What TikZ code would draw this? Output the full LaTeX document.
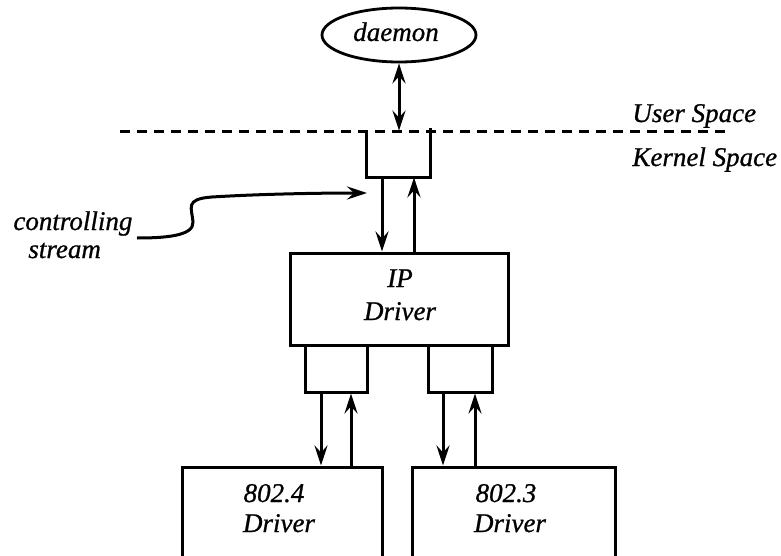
\documentclass[tikz,border=0pt]{standalone}
\usepackage{fontspec}
\setmainfont{Liberation Serif}[ItalicFeatures={FakeBold=0.8}]
\usetikzlibrary{arrows.meta,shapes.geometric}

\tikzset{
  tip/.tip={Stealth[length=10pt,width=6.5pt,inset=3.5pt]},
  line/.style={line width=1.5pt},
  arr/.style={line, -tip},
  darr/.style={line, tip-tip},
  box/.style={rectangle, draw, line width=1.5pt, inner sep=0pt},
  frame/.style={rectangle, inner sep=0pt},
  txt/.style={font=\fontsize{13.5}{16}\selectfont\itshape, inner sep=0pt, anchor=base},
  txtw/.style={txt, anchor=base west},
}

\begin{document}
\begin{tikzpicture}[x=0.5pt, y=-0.5pt]
  \useasboundingbox (0,0) rectangle (781,556);
  \clip (0,0) rectangle (781,556);

  % daemon process
  \node[ellipse, draw, line width=1.4pt, minimum width=77pt, minimum height=27pt, inner sep=0pt] (daemon) at (399,35) {};
  \node[txt] (daemontxt) at (396,41) {daemon};

  % user / kernel boundary
  \coordinate (bl) at (120,131);
  \coordinate (br) at (725,131);
  \draw[line, dash pattern=on 5pt off 3.5pt] (bl) -- (br);
  \node[txtw] (user) at (632,122) {User Space};
  \node[txtw] (kernel) at (632,166) {Kernel Space};

  % stream head (open at the top, on the boundary)
  \node[frame, minimum width=31.5pt, minimum height=23pt] (thead) at (398.5,154) {};
  \draw[line] (thead.north west) -- (thead.south west) -- (thead.south east) -- ([yshift=1.5pt]thead.north east);
  \draw[darr] (daemon.south) -- (daemon.south |- thead.north);

  % IP driver
  \node[box, minimum width=109pt, minimum height=46pt] (ip) at (399,299) {};
  \node[txt] (iptxt1) at (400,287) {IP};
  \node[txt] (iptxt2) at (400,320) {Driver};

  \draw[arr] (382,0 |- thead.south) -- (382,0 |- ip.north);
  \draw[arr] (414,0 |- ip.north) -- (414,0 |- thead.south);

  % controlling stream label and pointer
  \node[txtw] (ctl1) at (13,230) {controlling};
  \node[txtw] (ctl2) at (28,258) {stream};
  \coordinate (cs) at (137,238);
  \coordinate (ce) at (367,193);
  \draw[arr] (cs) .. controls (165,238) and (194,236) .. (193,222)
             .. controls (192,208) and (184,199) .. (212,197)
             .. controls (260,194) and (320,193) .. (ce);

  % lower queues of the IP driver
  \node[box, minimum width=31pt, minimum height=23.5pt] (qa) at (336,368.5) {};
  \node[box, minimum width=32pt, minimum height=23.5pt] (qb) at (460,368.5) {};

  % network drivers
  \node[box, minimum width=100pt, minimum height=56.5pt] (d4) at (282,523.5) {};
  \node[box, minimum width=101.5pt, minimum height=56.5pt] (d3) at (513.5,523.5) {};
  \node[txt] (d4a) at (274,502) {802.4};
  \node[txt] (d4b) at (279,532) {Driver};
  \node[txt] (d3a) at (506,502) {802.3};
  \node[txt] (d3b) at (510,532) {Driver};

  \draw[arr] (321,0 |- qa.south) -- (321,0 |- d4.north);
  \draw[arr] (351,0 |- d4.north) -- (351,0 |- qa.south);
  \draw[arr] (443,0 |- qb.south) -- (443,0 |- d3.north);
  \draw[arr] (475,0 |- d3.north) -- (475,0 |- qb.south);
\end{tikzpicture}
\end{document}
